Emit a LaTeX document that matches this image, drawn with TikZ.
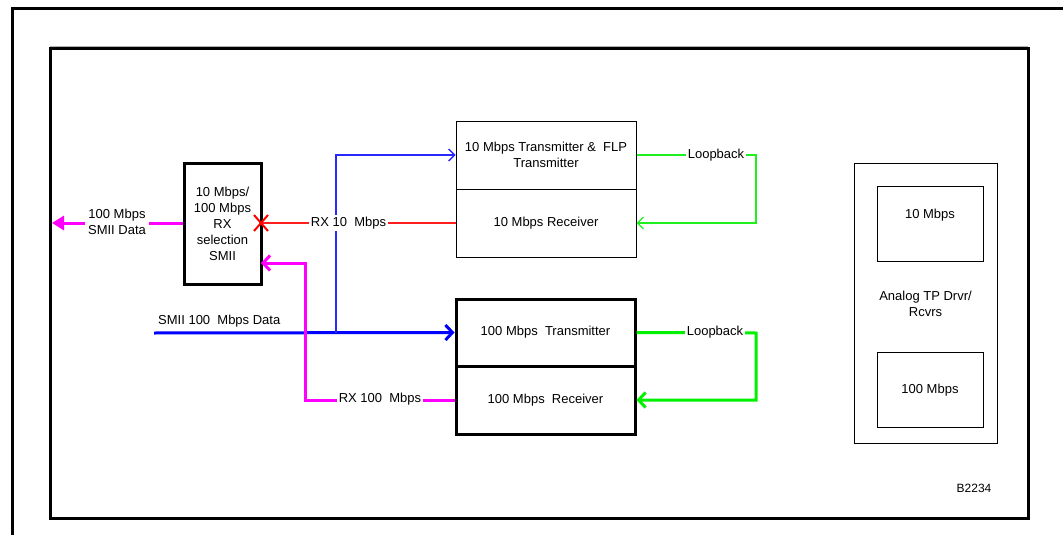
\documentclass[tikz,border=0pt]{standalone}
\usepackage{fontspec}
\setmainfont{Liberation Sans}
\usetikzlibrary{arrows.meta,calc}
\definecolor{tblue}{RGB}{40,40,255}
\definecolor{kblue}{RGB}{0,0,255}
\definecolor{mag}{RGB}{255,0,255}
\definecolor{kgreen}{RGB}{0,240,0}
\definecolor{tgreen}{RGB}{30,240,30}
\definecolor{tred}{RGB}{255,30,30}
\tikzset{
  every node/.style={font=\fontsize{13}{16}\selectfont},
  thinbox/.style={draw,line width=1pt,rectangle,inner sep=0pt,align=center},
  thickbox/.style={draw,line width=3pt,rectangle,inner sep=0pt,align=center},
  lbl/.style={fill=white,inner sep=2pt,align=center},
  openarrow/.style={-{Straight Barb[length=6pt,width=12pt,line width=1.4pt]}},
  openarrowk/.style={-{Straight Barb[length=7pt,width=15pt,line width=3pt]}},
}
\begin{document}
\begin{tikzpicture}[x=1pt,y=-1pt]
\useasboundingbox (0,0) rectangle (1063,535);
% frames
\draw[line width=3pt] (12,535) -- (12,9) -- (1063,9);
\draw[line width=1pt,gray!60] (50,47) -- (1028,47);
\draw[line width=3pt] (50,49) rectangle (1028,518);
% boxes
\node[thickbox,minimum width=77pt,minimum height=121pt] (sel) at (222.5,223.5)
  {10 Mbps/\\100 Mbps\\RX\\selection\\SMII};
\node[thinbox,minimum width=180pt,minimum height=68pt] (tx10) at (546,155)
  {10 Mbps Transmitter \&\ \ FLP\\Transmitter};
\node[thinbox,minimum width=180pt,minimum height=68pt] (rx10) at (546,223)
  {10 Mbps Receiver};
\node[thickbox,minimum width=179pt,minimum height=67pt] (tx100) at (545.5,332.5)
  {100 Mbps\ \ Transmitter};
\node[thickbox,minimum width=179pt,minimum height=68pt] (rx100) at (545.5,400)
  {100 Mbps\ \ Receiver};
\node[thinbox,minimum width=143pt,minimum height=280pt] (analog) at (925.5,303) {};
\node[align=center] (analogtxt) at (925.5,304) {Analog TP Drvr/\\Rcvrs};
\node[thinbox,minimum width=106pt,minimum height=75pt] (a10) at (930,223.5) {};
\node (a10t) at (930,215) {10 Mbps};
\node[thinbox,minimum width=106pt,minimum height=75pt] (a100) at (930,389.5) {};
\node (a100t) at (930,390) {100 Mbps};
\node[font=\fontsize{12}{14}\selectfont] (fig) at (974,488) {B2234};
% blue thick SMII 100 Mbps data
\coordinate (smiin) at (154,333);
\draw[kblue,line width=3pt,openarrowk] (smiin) -- (tx100.west);
\node[anchor=south west,inner sep=1pt] (smiilbl) at (157,328) {SMII 100\ \ Mbps Data};
% blue thin branch
\coordinate (bj) at (336,333);
\draw[tblue,line width=1.4pt,openarrow] (bj) |- (tx10.west);
% red RX 10 Mbps
\coordinate (xmark) at (261,223);
\draw[tred,line width=1.4pt] (rx10.west) -- (xmark)
  node[lbl,pos=0.55,text=black] (rx10lbl) {RX 10\ \ Mbps};
\draw[red,line width=2pt] ($(xmark)+(-7,-8)$) -- ($(xmark)+(7,8)$);
\draw[red,line width=2pt] ($(xmark)+(-7,8)$) -- ($(xmark)+(7,-8)$);
% green thin loopback
\coordinate (lb1) at (756,155);
\draw[tgreen,line width=1.4pt,openarrow] (tx10.east) -- (lb1) |- (rx10.east);
\node[lbl] (lb1lbl) at (716,155) {Loopback};
% green thick loopback
\coordinate (lb2) at (756,333);
\draw[kgreen,line width=3pt,openarrowk] (tx100.east) -- (lb2) |- (rx100.east);
\node[lbl] (lb2lbl) at (715,332) {Loopback};
% magenta RX 100 Mbps
\coordinate (mj) at (305,400);
\coordinate (selin) at (261,263);
\draw[mag,line width=3pt,openarrowk] (rx100.west) -- (mj) |- (selin);
\node[lbl] (rx100lbl) at (380,399) {RX 100\ \ Mbps};
% magenta output
\coordinate (out) at (52,223);
\draw[mag,line width=3pt,-{Triangle[length=12pt,width=14pt]}] (sel.west |- out) -- (out);
\node[lbl,inner sep=3pt] (outlbl) at (117,222) {100 Mbps\\SMII Data};
\end{tikzpicture}
\end{document}
